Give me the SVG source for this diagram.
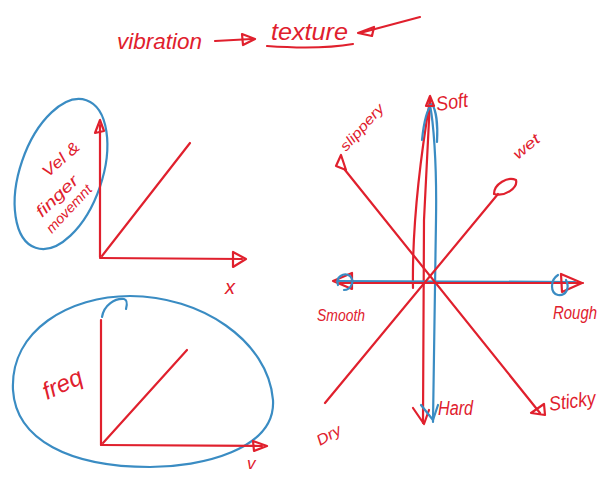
<svg xmlns="http://www.w3.org/2000/svg" width="610" height="478" viewBox="0 0 610 478">
<defs>
<style>
.r{fill:none;stroke:#e0202d;stroke-width:2.2;stroke-linecap:round;stroke-linejoin:round}
.b{fill:none;stroke:#3a8cc3;stroke-width:2.2;stroke-linecap:round;stroke-linejoin:round}
.t{fill:#e0202d;font-family:"Liberation Sans",Arial,sans-serif;font-style:italic}
</style>
</defs>
<rect width="610" height="478" fill="#ffffff"/>
<g id="title">
<text class="t" x="117" y="49" font-size="22" textLength="85" lengthAdjust="spacingAndGlyphs">vibration</text>
<path class="r" d="M215 41 L252 39"/>
<path class="r" d="M242 34 L255 39 L243 45 Z"/>
<text class="t" x="271" y="40" font-size="23" textLength="77" lengthAdjust="spacingAndGlyphs">texture</text>
<path class="r" d="M267 46 C295 48 330 48 353 44"/>
<path class="r" d="M358 33 L374 27 L372 36 Z"/>
<path class="r" d="M360 33 L420 17"/>
</g>
<g id="plot-velocity">
<ellipse class="b" cx="61" cy="174" rx="41" ry="78" transform="rotate(19 61 174)"/>
<path class="r" d="M100 257 L100 125"/>
<path class="r" d="M100 120 L95 133 L104 131 Z"/>
<path class="r" d="M100 258 L242 259"/>
<path class="r" d="M246 259 L233 252 L233 267 Z"/>
<path class="r" d="M102 256 L190 143"/>
<text class="t" x="225" y="294" font-size="20">x</text>
<text class="t" font-size="16" transform="translate(48 178) rotate(-42)" textLength="44" lengthAdjust="spacingAndGlyphs">Vel &amp;</text>
<text class="t" font-size="16" transform="translate(42 218) rotate(-44)" textLength="52" lengthAdjust="spacingAndGlyphs">finger</text>
<text class="t" font-size="14" transform="translate(52 234) rotate(-47)" textLength="60" lengthAdjust="spacingAndGlyphs">movemnt</text>
</g>
<g id="plot-frequency">
<path class="b" d="M13 390 C10 330 70 296 130 296 C200 296 268 340 273 400 C276 450 200 467 150 467 C70 467 16 440 13 390 Z"/>
<path class="b" d="M102 317 C104 305 115 298 124 299 C128 300 127 305 126 309"/>
<path class="r" d="M101 445 L101 320"/>
<path class="r" d="M101 445 L262 446"/>
<path class="r" d="M267 446 L253 441 L254 451 Z"/>
<path class="r" d="M103 443 L187 350"/>
<text class="t" font-size="24" transform="translate(47 400) rotate(-25)">freq</text>
<text class="t" x="247" y="469" font-size="17">v</text>
</g>
<g id="texture-axes">
<path class="r" d="M430 100 C420 160 412 230 413 288"/>
<path class="r" d="M430 100 L424 220 L423 423"/>
<path class="b" d="M433 422 L436 220 C437 160 433 120 430 105"/>
<path class="b" d="M422 140 C424 120 428 108 432 104 C436 110 438 125 437 142"/>
<path class="r" d="M430 96 L426 106 L434 106 Z" fill="#e0202d"/>
<path class="r" d="M413 408 L424 424 L429 410"/>
<path class="b" d="M421 405 L433 420 L438 405"/>
<path class="b" d="M337 281 L575 282" stroke-width="3"/>
<path class="r" d="M340 283 L583 283"/>
<path class="r" d="M333 281 L352 273 L352 289 Z"/>
<path class="b" d="M338 285 C335 277 344 272 350 276 C355 281 351 290 344 290"/>
<path class="r" d="M582 283 L561 274 L562 292 Z"/>
<path class="b" d="M558 275 C550 280 550 293 558 295 C566 296 570 288 566 280"/>
<path class="r" d="M345 170 L540 413"/>
<path class="r" d="M336 166 L341 155 L346 170 Z"/>
<path class="r" d="M531 413 L544 404 L545 415 Z"/>
<path class="r" d="M498 194 L325 403"/>
<path class="r" d="M494 194 C494 184 508 176 516 180 C518 188 505 197 494 194 Z"/>
</g>
<g id="labels">
<text class="t" font-size="20" transform="translate(437 111) rotate(-8)" textLength="32" lengthAdjust="spacingAndGlyphs">Soft</text>
<text class="t" font-size="14" transform="translate(346 152) rotate(-48)" textLength="58" lengthAdjust="spacingAndGlyphs">slippery</text>
<text class="t" font-size="15" transform="translate(518 160) rotate(-40)" textLength="30" lengthAdjust="spacingAndGlyphs">wet</text>
<text class="t" x="317" y="321" font-size="17" textLength="48" lengthAdjust="spacingAndGlyphs">Smooth</text>
<text class="t" x="553" y="319" font-size="18" textLength="44" lengthAdjust="spacingAndGlyphs">Rough</text>
<text class="t" x="438" y="415" font-size="20" textLength="35" lengthAdjust="spacingAndGlyphs">Hard</text>
<text class="t" font-size="20" transform="translate(550 411) rotate(-8)" textLength="47" lengthAdjust="spacingAndGlyphs">Sticky</text>
<text class="t" font-size="15" transform="translate(320 446) rotate(-30)" textLength="26" lengthAdjust="spacingAndGlyphs">Dry</text>
</g>
</svg>
